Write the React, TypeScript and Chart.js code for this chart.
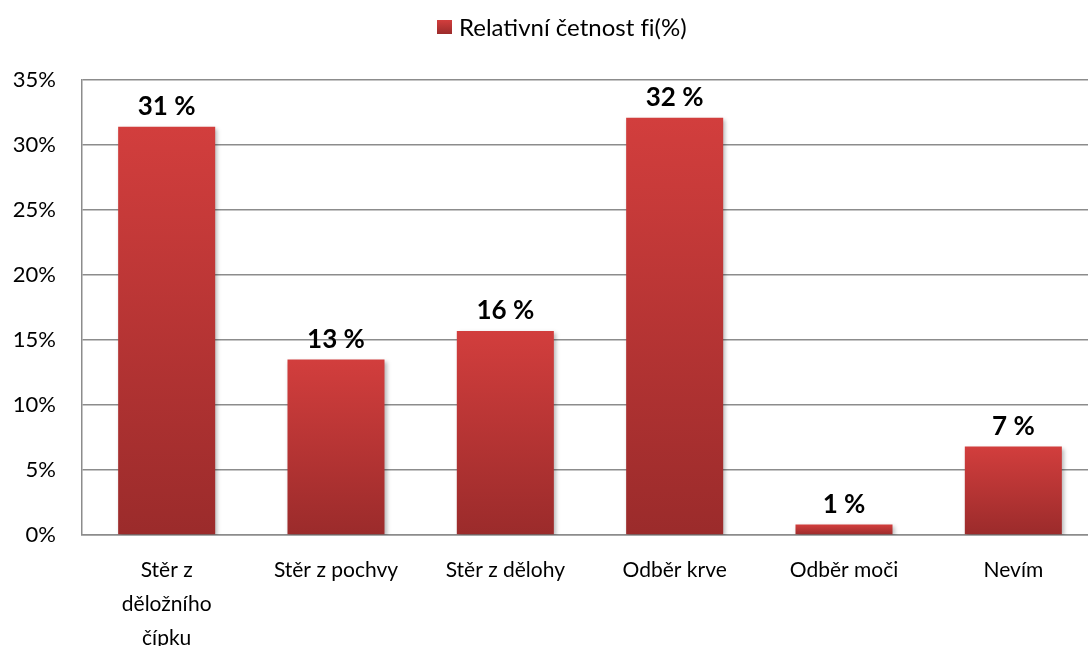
import React, { useEffect, useRef } from "react";
import { Chart, registerables } from "chart.js";

Chart.register(...registerables);

const categories: (string | string[])[] = [
  ["Stěr z", "děložního", "čípku"],
  "Stěr z pochvy",
  "Stěr z dělohy",
  "Odběr krve",
  "Odběr moči",
  "Nevím",
];
const values: number[] = [31.4, 13.5, 15.7, 32.1, 0.8, 6.8];
const valueLabels: string[] = ["31 %", "13 %", "16 %", "32 %", "1 %", "7 %"];
// zero-width non-joiner keeps "f" and "i" from fusing into a ligature glyph
const seriesName = "Relativní četnost f\u200Ci(%)";
const yTicks: number[] = [0, 5, 10, 15, 20, 25, 30, 35];

const FONT = "Lato, 'Open Sans', sans-serif";
const TOP_COLOR = "#d23e3d";
const BOTTOM_COLOR = "#9b2b2b";

export default function App() {
  const ref = useRef<HTMLCanvasElement | null>(null);

  useEffect(() => {
    document.body.style.margin = "0";
    const canvas = ref.current;
    if (!canvas) return;

    const labelPlugin = {
      id: "valueLabels",
      afterDatasetsDraw(chart: any) {
        const ctx = chart.ctx;
        const meta = chart.getDatasetMeta(0);
        ctx.save();
        ctx.font = `bold 26px ${FONT}`;
        ctx.fillStyle = "#000";
        ctx.textAlign = "center";
        ctx.textBaseline = "middle";
        meta.data.forEach((bar: any, i: number) => {
          ctx.fillText(valueLabels[i], bar.x, bar.y - 20);
        });
        ctx.restore();
      },
    };

    const shadowPlugin = {
      id: "barShadow",
      beforeDatasetsDraw(chart: any) {
        const ctx = chart.ctx;
        ctx.save();
        ctx.shadowColor = "rgba(0,0,0,0.28)";
        ctx.shadowBlur = 4;
        ctx.shadowOffsetX = 2;
        ctx.shadowOffsetY = 2;
      },
      afterDatasetsDraw(chart: any) {
        chart.ctx.restore();
      },
    };

    const legendPlugin = {
      id: "customLegend",
      afterDraw(chart: any) {
        const ctx = chart.ctx;
        ctx.save();
        ctx.font = `24px ${FONT}`;
        const boxW = 15;
        const boxH = 14;
        const gap = 7;
        const x0 = 437;
        const cy = 27;
        const g = ctx.createLinearGradient(0, cy - boxH / 2, 0, cy + boxH / 2);
        g.addColorStop(0, TOP_COLOR);
        g.addColorStop(1, BOTTOM_COLOR);
        ctx.fillStyle = g;
        ctx.fillRect(x0, cy - boxH / 2, boxW, boxH);
        ctx.fillStyle = "#000";
        ctx.textAlign = "left";
        ctx.textBaseline = "middle";
        ctx.fillText(seriesName, x0 + boxW + gap, cy + 1);
        ctx.restore();
      },
    };

    const chart = new Chart(canvas, {
      type: "bar",
      data: {
        labels: categories,
        datasets: [
          {
            label: seriesName,
            data: values,
            barPercentage: 0.573,
            categoryPercentage: 1,
            backgroundColor: (c: any) => {
              const chartObj = c.chart;
              const area = chartObj.chartArea;
              if (!area || c.dataIndex === undefined) return TOP_COLOR;
              const ys = chartObj.scales.y;
              const top = ys.getPixelForValue(values[c.dataIndex]);
              const base = ys.getPixelForValue(0);
              if (!isFinite(top) || !isFinite(base) || base - top < 1) return TOP_COLOR;
              const g = chartObj.ctx.createLinearGradient(0, top, 0, base);
              g.addColorStop(0, TOP_COLOR);
              g.addColorStop(1, BOTTOM_COLOR);
              return g;
            },
            borderWidth: 0,
          },
        ],
      },
      options: {
        responsive: false,
        animation: false,
        devicePixelRatio: 1,
        layout: { padding: { left: 0, top: 80, right: 2, bottom: 0 } },
        plugins: {
          legend: { display: false },
          tooltip: { enabled: false },
        },
        scales: {
          x: {
            grid: { display: false, drawTicks: false },
            border: { display: true, color: "#8c8c8c", width: 1.5 },
            ticks: {
              color: "#000",
              font: { family: FONT, size: 21, lineHeight: 1.62 },
              padding: 18,
              maxRotation: 0,
              autoSkip: false,
            },
            afterFit(scale: any) {
              scale.height = 111;
            },
          },
          y: {
            min: 0,
            max: 35,
            afterBuildTicks(scale: any) {
              scale.ticks = yTicks.map((v) => ({ value: v }));
            },
            grid: { color: "#8c8c8c", lineWidth: 1.5, drawTicks: false },
            border: { display: true, color: "#8c8c8c", width: 1.5 },
            ticks: {
              color: "#000",
              font: { family: FONT, size: 22 },
              padding: 26,
              callback: (v: any) => `${v}%`,
            },
            afterFit(scale: any) {
              scale.width = 82;
            },
          },
        },
      },
      plugins: [shadowPlugin, labelPlugin, legendPlugin],
    });

    return () => chart.destroy();
  }, []);

  return (
    <div
      style={{
        position: "fixed",
        left: 0,
        top: 0,
        width: 1088,
        height: 646,
        overflow: "hidden",
        background: "#fff",
      }}
    >
      <canvas ref={ref} width={1100} height={646} style={{ display: "block" }} />
    </div>
  );
}
